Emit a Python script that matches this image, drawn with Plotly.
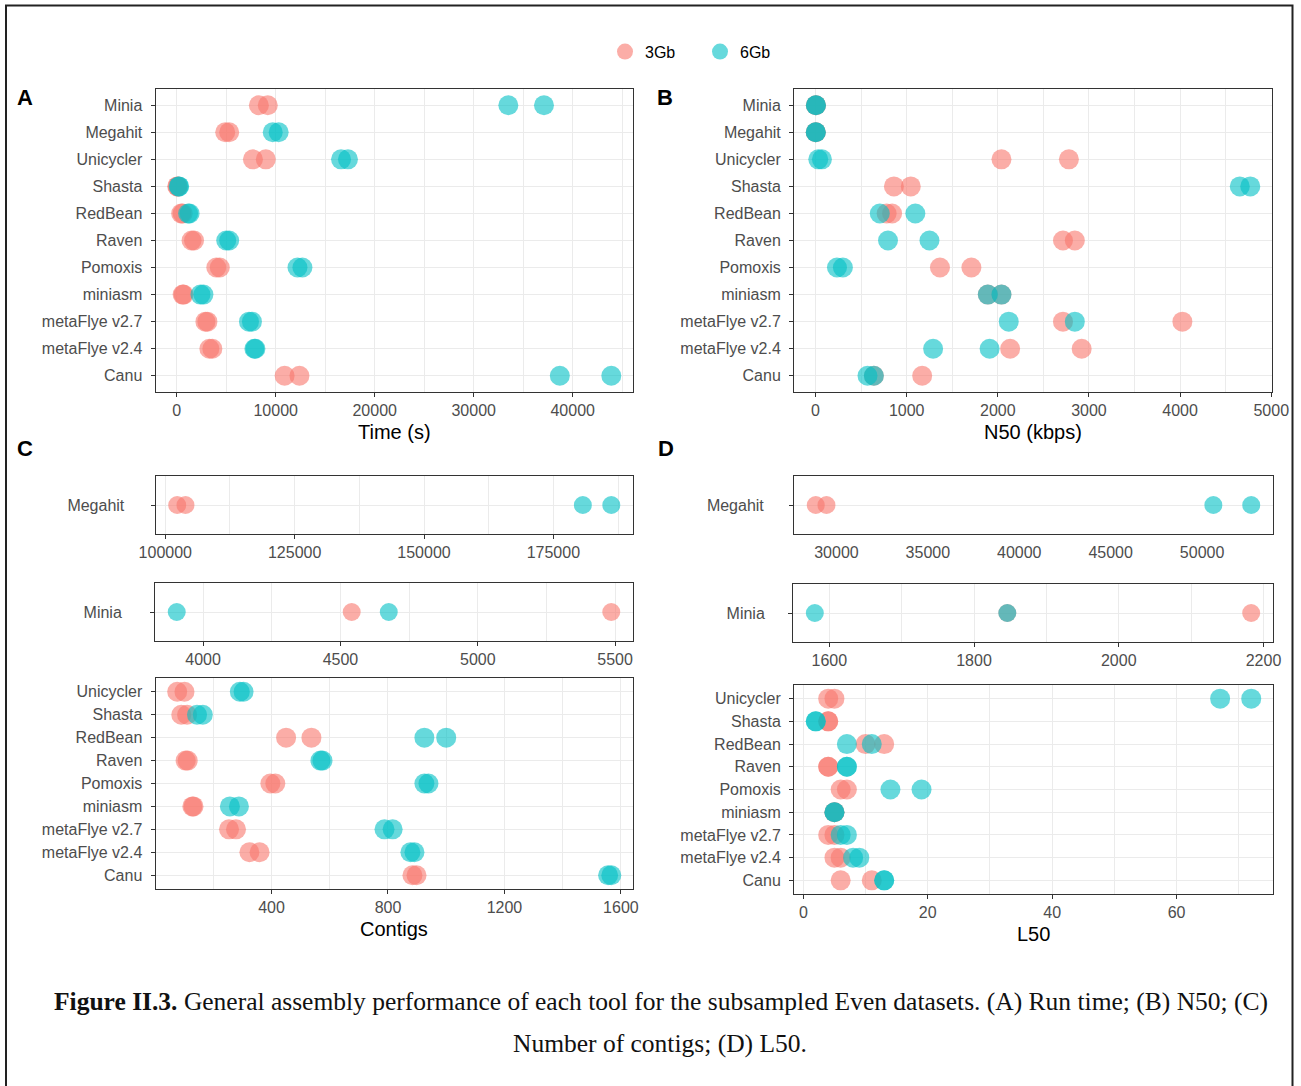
import plotly.graph_objects as go

W, H = 1301, 1086
RED = "#F8766D"
CYAN = "#00BFC4"

# ---------------- data ----------------
tools_ab = ["Minia", "Megahit", "Unicycler", "Shasta", "RedBean", "Raven",
            "Pomoxis", "miniasm", "metaFlye v2.7", "metaFlye v2.4", "Canu"]

time_3gb = [[8300, 9200], [4900, 5300], [7700, 9000], [50, 100], [450, 600],
            [1500, 1750], [4000, 4350], [600, 700], [2900, 3100], [3300, 3600],
            [10900, 12400]]
time_6gb = [[33500, 37100], [9700, 10300], [16600, 17300], [200, 250], [1150, 1300],
            [5000, 5300], [12200, 12700], [2400, 2700], [7300, 7600], [7850, 7950],
            [38700, 43900]]

n50_3gb = [[3, 5], [2, 3], [2040, 2780], [860, 1045], [780, 840], [2715, 2845],
           [1365, 1710], [1890, 2040], [2715, 4025], [2135, 2920], [640, 1170]]
n50_6gb = [[3, 5], [2, 3], [30, 70], [4655, 4770], [705, 1095], [795, 1250],
           [235, 300], [1890, 2040], [2120, 2845], [1290, 1910], [570, 640]]

tools_cd = ["Unicycler", "Shasta", "RedBean", "Raven", "Pomoxis", "miniasm",
            "metaFlye v2.7", "metaFlye v2.4", "Canu"]

contigs_megahit_3gb = [102300, 103900]
contigs_megahit_6gb = [180700, 186200]
contigs_minia_3gb = [4541, 5486]
contigs_minia_6gb = [3904, 4676]
contigs_3gb = [[76, 101], [90, 110], [450, 537], [105, 112], [396, 413],
               [128, 132], [254, 278], [324, 359], [884, 898]]
contigs_6gb = [[291, 304], [144, 164], [925, 1000], [568, 575], [925, 939],
               [257, 288], [788, 816], [877, 891], [1556, 1567]]

l50_megahit_3gb = [28870, 29455]
l50_megahit_6gb = [50616, 52688]
l50_minia_3gb = [1846, 2183]
l50_minia_6gb = [1580, 1846]
l50_3gb = [[4, 5], [4, 4], [10, 13], [4, 4], [6, 7], [5, 5], [4, 5], [5, 6], [6, 11]]
l50_6gb = [[67, 72], [2, 2], [7, 11], [7, 7], [14, 19], [5, 5], [6, 7], [8, 9], [13, 13]]

# tick definitions
time_ticks = [0, 10000, 20000, 30000, 40000]
time_minor = [5000, 15000, 25000, 35000, 45000]
n50_ticks = [0, 1000, 2000, 3000, 4000, 5000]
n50_minor = [500, 1500, 2500, 3500, 4500]
cmeg_ticks = [100000, 125000, 150000, 175000]
cmeg_minor = [112500, 137500, 162500, 187500]
cmin_ticks = [4000, 4500, 5000, 5500]
cmin_minor = [4250, 4750, 5250]
contig_ticks = [400, 800, 1200, 1600]
contig_minor = [200, 600, 1000, 1400]
dmeg_labels = [30000, 35000, 40000, 45000, 50000]
dmeg_marks = [32070, 36650, 41230, 45810]
dmeg_marks_minor = [29780, 34360, 38940, 43520, 48100]
dmin_ticks = [1600, 1800, 2000, 2200]
dmin_minor = [1700, 1900, 2100]
l50_ticks = [0, 20, 40, 60]
l50_minor = [10, 30, 50, 70]


# ---------------- helpers ----------------
def px(x):
    return x / W


def py(y):
    return 1 - y / H


def flat(cats, pairs):
    xs, ys = [], []
    for c, p in zip(cats, pairs):
        for v in p:
            xs.append(v)
            ys.append(c)
    return xs, ys


def expand(*lists):
    vals = []
    for l in lists:
        for v in l:
            if isinstance(v, (list, tuple)):
                vals.extend(v)
            else:
                vals.append(v)
    lo, hi = min(vals), max(vals)
    pad = 0.05 * (hi - lo)
    return [lo - pad, hi + pad]


TICKFONT = dict(family="Liberation Sans, Arial, sans-serif", size=16, color="#4D4D4D")
GRID = "#EBEBEB"


def xax(x0, x1, rng, ticks, minor, anchor):
    return dict(domain=[px(x0), px(x1)], range=rng, tickmode="array",
                tickvals=ticks, ticktext=[str(t) for t in ticks],
                showgrid=True, gridcolor=GRID, gridwidth=1.2,
                minor=dict(tickvals=minor, showgrid=True, gridcolor=GRID,
                           gridwidth=0.6, ticks=""),
                ticks="outside", ticklen=4, tickwidth=1, tickcolor="#333333",
                showline=True, mirror=True, linecolor="#333333", linewidth=1,
                zeroline=False, tickfont=TICKFONT, anchor=anchor,
                automargin=False, fixedrange=True)


def yax(y0, y1, cats, anchor, standoff=3):
    n = len(cats)
    return dict(domain=[py(y1), py(y0)], type="category", categoryorder="array",
                categoryarray=cats, range=[n - 0.4, -0.6],
                showgrid=True, gridcolor=GRID, gridwidth=1.2,
                ticks="outside", ticklen=4, tickwidth=1, tickcolor="#333333",
                showline=True, mirror=True, linecolor="#333333", linewidth=1,
                zeroline=False, tickfont=TICKFONT, anchor=anchor,
                ticklabelstandoff=standoff, automargin=False, fixedrange=True)


fig = go.Figure()


def add_pair(xs3, ys3, xs6, ys6, xa, ya, size, legend=False):
    fig.add_trace(go.Scatter(x=xs3, y=ys3, mode="markers", name="3Gb",
                             legendgroup="3Gb", showlegend=legend,
                             marker=dict(color=RED, size=size, opacity=0.6,
                                         line=dict(width=0)),
                             xaxis=xa, yaxis=ya))
    fig.add_trace(go.Scatter(x=xs6, y=ys6, mode="markers", name="6Gb",
                             legendgroup="6Gb", showlegend=legend,
                             marker=dict(color=CYAN, size=size, opacity=0.6,
                                         line=dict(width=0)),
                             xaxis=xa, yaxis=ya))


MS = 20
MS_S = 18

# A
x3, y3 = flat(tools_ab, time_3gb)
x6, y6 = flat(tools_ab, time_6gb)
add_pair(x3, y3, x6, y6, "x", "y", MS, legend=True)
# B
x3, y3 = flat(tools_ab, n50_3gb)
x6, y6 = flat(tools_ab, n50_6gb)
add_pair(x3, y3, x6, y6, "x2", "y2", MS)
# C top: Megahit
add_pair(contigs_megahit_3gb, ["Megahit"] * len(contigs_megahit_3gb),
         contigs_megahit_6gb, ["Megahit"] * len(contigs_megahit_6gb), "x3", "y3", MS_S)
# C mid: Minia
add_pair(contigs_minia_3gb, ["Minia"] * len(contigs_minia_3gb),
         contigs_minia_6gb, ["Minia"] * len(contigs_minia_6gb), "x4", "y4", MS_S)
# C main
x3, y3 = flat(tools_cd, contigs_3gb)
x6, y6 = flat(tools_cd, contigs_6gb)
add_pair(x3, y3, x6, y6, "x5", "y5", MS)
# D top: Megahit
add_pair(l50_megahit_3gb, ["Megahit"] * len(l50_megahit_3gb),
         l50_megahit_6gb, ["Megahit"] * len(l50_megahit_6gb), "x6", "y6", MS_S)
# D mid: Minia
add_pair(l50_minia_3gb, ["Minia"] * len(l50_minia_3gb),
         l50_minia_6gb, ["Minia"] * len(l50_minia_6gb), "x7", "y7", MS_S)
# D main
x3, y3 = flat(tools_cd, l50_3gb)
x6, y6 = flat(tools_cd, l50_6gb)
add_pair(x3, y3, x6, y6, "x8", "y8", MS)

rA = expand(time_3gb, time_6gb)
rB = expand(n50_3gb, n50_6gb)
rC1 = expand(contigs_megahit_3gb, contigs_megahit_6gb)
rC2 = expand(contigs_minia_3gb, contigs_minia_6gb)
rC3 = expand(contigs_3gb, contigs_6gb)
rD1 = expand(l50_megahit_3gb, l50_megahit_6gb)
rD2 = expand(l50_minia_3gb, l50_minia_6gb)
rD3 = expand(l50_3gb, l50_6gb)

layout = dict(
    width=W, height=H, margin=dict(l=0, r=0, t=0, b=0, autoexpand=False),
    paper_bgcolor="white", plot_bgcolor="white",
    font=dict(family="Liberation Sans, Arial, sans-serif", color="#000000"),
    xaxis=xax(155.5, 633, rA, time_ticks, time_minor, "y"),
    yaxis=yax(89, 392, tools_ab, "x", 5),
    xaxis2=xax(794, 1272, rB, n50_ticks, n50_minor, "y2"),
    yaxis2=yax(89, 392, tools_ab, "x2", 5),
    xaxis3=xax(155.5, 633, rC1, cmeg_ticks, cmeg_minor, "y3"),
    yaxis3=yax(476, 534, ["Megahit"], "x3", 23),
    xaxis4=xax(155, 633, rC2, cmin_ticks, cmin_minor, "y4"),
    yaxis4=yax(583, 641, ["Minia"], "x4", 25),
    xaxis5=xax(155.5, 633, rC3, contig_ticks, contig_minor, "y5"),
    yaxis5=yax(678, 889, tools_cd, "x5", 5),
    xaxis6=xax(794, 1273, rD1, dmeg_labels, [], "y6"),
    yaxis6=yax(476, 534, ["Megahit"], "x6", 22),
    xaxis7=xax(793, 1273, rD2, dmin_ticks, dmin_minor, "y7"),
    yaxis7=yax(584, 642, ["Minia"], "x7", 20),
    xaxis8=xax(794, 1273, rD3, l50_ticks, l50_minor, "y8"),
    yaxis8=yax(685, 894, tools_cd, "x8", 5),
)
# D Megahit: labels on the main axis, tick marks + grid on an overlay axis
layout["xaxis6"].update(showgrid=False, tickcolor="rgba(0,0,0,0)",
                        minor=dict(showgrid=False))
layout["xaxis9"] = dict(overlaying="x6", anchor="y6", side="bottom", range=rD1,
                        domain=[px(794), px(1273)],
                        tickmode="array", tickvals=dmeg_marks, showticklabels=False,
                        ticks="outside", ticklen=4, tickwidth=1, tickcolor="#333333",
                        showgrid=True, gridcolor=GRID, gridwidth=1.2,
                        minor=dict(tickvals=dmeg_marks_minor, showgrid=True,
                                   gridcolor=GRID, gridwidth=0.6, ticks=""),
                        showline=False, zeroline=False, automargin=False,
                        fixedrange=True)

layout["legend"] = dict(orientation="h", x=px(605), xanchor="left",
                        y=py(51.7), yanchor="middle",
                        font=dict(family="Liberation Sans, Arial, sans-serif",
                                  size=16, color="#000000"),
                        entrywidth=50, bgcolor="rgba(0,0,0,0)")
fig.update_layout(**layout)

ann = []
LETTER = dict(family="Liberation Sans, Arial, sans-serif", size=22, color="#000000")
for txt, x, y in [("A", 24.5, 97.5), ("B", 664.5, 97.5), ("C", 24.5, 448), ("D", 666, 448)]:
    ann.append(dict(text="<b>%s</b>" % txt, x=px(x), y=py(y), xref="paper", yref="paper",
                    xanchor="center", yanchor="middle", showarrow=False, font=LETTER))
TITLE = dict(family="Liberation Sans, Arial, sans-serif", size=20, color="#000000")
for txt, x, y in [("Time (s)", 394.5, 432), ("N50 (kbps)", 1033, 432),
                  ("Contigs", 394, 929), ("L50", 1033, 934)]:
    ann.append(dict(text=txt, x=px(x), y=py(y), xref="paper", yref="paper",
                    xanchor="center", yanchor="middle", showarrow=False, font=TITLE))
CAP = dict(family="Liberation Serif, Times New Roman, serif", size=25.5, color="#111111")
ann.append(dict(text="<b>Figure II.3.</b> General assembly performance of each tool for the "
                     "subsampled Even datasets. (A) Run time; (B) N50; (C)",
                x=px(661), y=py(1001), xref="paper", yref="paper", xanchor="center",
                yanchor="middle", showarrow=False, font=CAP))
ann.append(dict(text="Number of contigs; (D) L50.", x=px(660), y=py(1043),
                xref="paper", yref="paper", xanchor="center", yanchor="middle",
                showarrow=False, font=CAP))
fig.update_layout(annotations=ann)

fig.add_shape(type="rect", xref="paper", yref="paper", x0=px(6), x1=px(1292.5),
              y0=-0.02, y1=py(5.5), line=dict(color="#222222", width=2),
              fillcolor="rgba(0,0,0,0)", layer="above")

fig.write_html("out.html")
